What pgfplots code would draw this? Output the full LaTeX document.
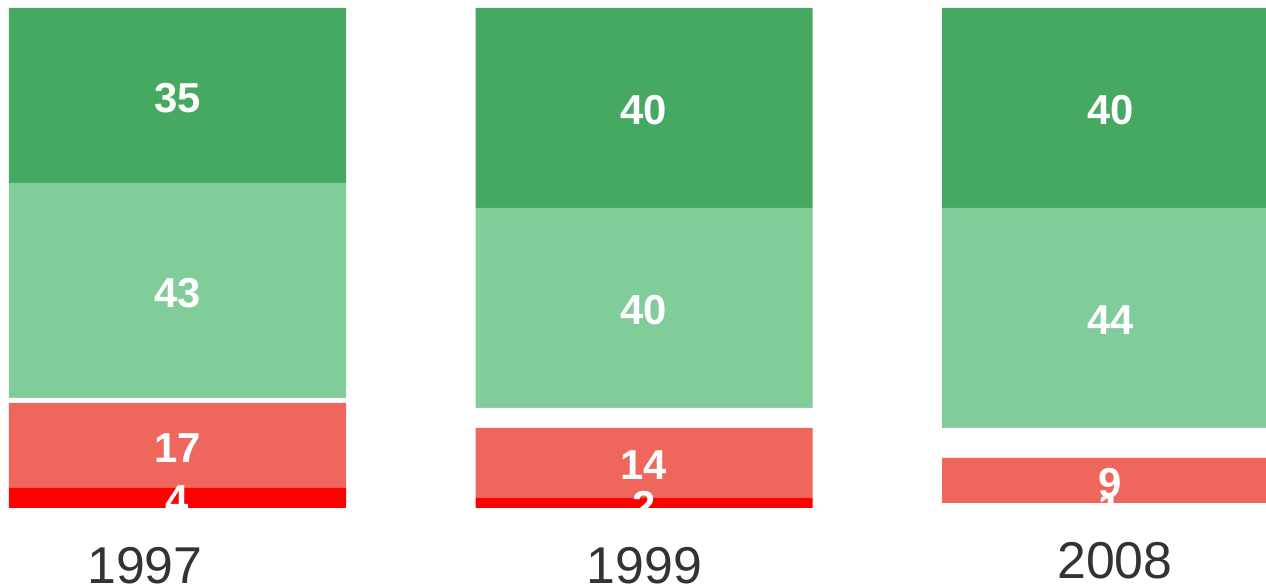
\documentclass[border=0pt]{standalone}
\usepackage{pgfplots}
\pgfplotsset{compat=1.18}
\usepackage{pgfplotstable}
\usepackage{fontspec}
\setmainfont{Liberation Sans}
\definecolor{dkgreen}{HTML}{46A961}
\definecolor{ltgreen}{HTML}{80CD99}
\definecolor{ltred}{HTML}{EE665C}
\definecolor{fullred}{HTML}{FF0000}
\definecolor{yeargray}{HTML}{333333}

% x: 0 = 1997, 1 = 1999, 2 = 2008
\pgfplotstableread{
x v lab
0 4 4
1 2 2
2 0 {}
}\tblred
\pgfplotstableread{
x v lab
0 0 {}
1 0 {}
2 1 1
}\tblredb
\pgfplotstableread{
x v lab
0 17 17
1 14 14
2 9 9
}\tblltred
\pgfplotstableread{
x v lab
0 1 {}
1 4 {}
2 6 {}
}\tblgap
\pgfplotstableread{
x v lab
0 43 43
1 40 40
2 44 44
}\tblltgreen
\pgfplotstableread{
x v lab
0 35 35
1 40 40
2 40 40
}\tbldkgreen

\pgfplotsset{
  barframe/.style={
    at={(0bp,79bp)}, anchor=south west,
    scale only axis,
    width=1266bp, height=500bp,
    xmin=-0.38049, xmax=2.33333,
    ymin=0, ymax=100,
    ybar stacked,
    bar width=337bp,
    axis line style={draw=none},
    tick style={draw=none},
    major tick length=0pt,
    ytick=\empty,
  }
}

\begin{document}
\begin{tikzpicture}
% bars
\begin{axis}[
  barframe,
  xtick={-0.0697,1.0011,2.0096},
  xticklabels={1997,1999,\raisebox{5bp}{2008}},
  xticklabel style={anchor=base, yshift=-75bp, text=yeargray,
    font=\fontsize{52}{60}\selectfont},
]
\addplot[fill=fullred, draw=none] table[x=x, y=v] {\tblred};
\addplot[fill=white, draw=none] table[x=x, y=v] {\tblredb};
\addplot[fill=ltred, draw=none] table[x=x, y=v] {\tblltred};
\addplot[fill=white, draw=none] table[x=x, y=v] {\tblgap};
\addplot[fill=ltgreen, draw=none] table[x=x, y=v] {\tblltgreen};
\addplot[fill=dkgreen, draw=none] table[x=x, y=v] {\tbldkgreen};
\end{axis}
% value labels on top of all bars
\begin{axis}[
  barframe,
  xtick=\empty,
  point meta=explicit symbolic,
  nodes near coords={\pgfplotspointmeta},
  every node near coord/.append style={anchor=center, yshift=-2.5bp,
    text=white, font=\bfseries\fontsize{42}{42}\selectfont},
]
\addplot[fill=none, draw=none] table[x=x, y=v, meta=lab] {\tblred};
\addplot[fill=none, draw=none] table[x=x, y=v, meta=lab] {\tblredb};
\addplot[fill=none, draw=none] table[x=x, y=v, meta=lab] {\tblltred};
\addplot[fill=none, draw=none] table[x=x, y=v, meta=lab] {\tblgap};
\addplot[fill=none, draw=none] table[x=x, y=v, meta=lab] {\tblltgreen};
\addplot[fill=none, draw=none] table[x=x, y=v, meta=lab] {\tbldkgreen};
\end{axis}
\pgfresetboundingbox
\useasboundingbox (0bp,0bp) rectangle (1266bp,587bp);
\end{tikzpicture}
\end{document}
